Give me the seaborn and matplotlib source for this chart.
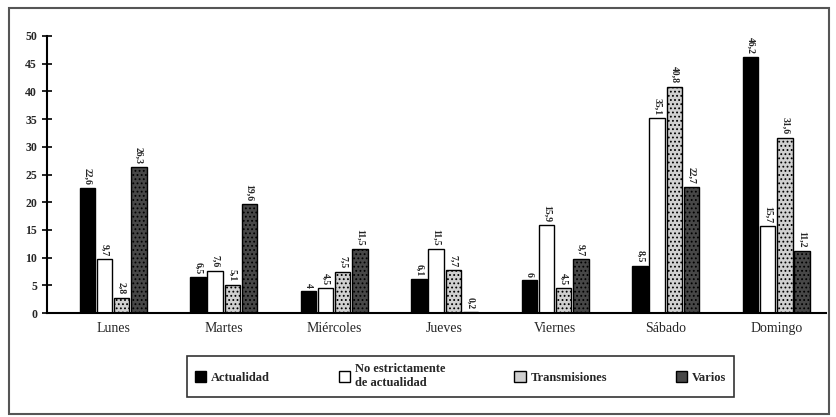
import matplotlib
matplotlib.use("Agg")
import matplotlib.pyplot as plt
import seaborn as sns
import pandas as pd
from matplotlib.patches import Rectangle

dias = ["Lunes", "Martes", "Miércoles", "Jueves", "Viernes", "Sábado", "Domingo"]
series = ["Actualidad", "No estrictamente\nde actualidad", "Transmisiones", "Varios"]
actualidad = [22.6, 6.5, 4.0, 6.1, 6.0, 8.5, 46.2]
no_estrict = [9.7, 7.6, 4.5, 11.5, 15.9, 35.1, 15.7]
transmisiones = [2.8, 5.1, 7.5, 7.7, 4.5, 40.8, 31.6]
varios = [26.3, 19.6, 11.5, 0.2, 9.7, 22.7, 11.2]
yticks = [0, 5, 10, 15, 20, 25, 30, 35, 40, 45, 50]

rows = []
for s, vals in zip(series, [actualidad, no_estrict, transmisiones, varios]):
    for d, v in zip(dias, vals):
        rows.append({"dia": d, "serie": s, "valor": v})
df = pd.DataFrame(rows)

sns.set_theme(style="white")
plt.rcParams["font.family"] = ["Liberation Serif", "DejaVu Serif"]
plt.rcParams["hatch.color"] = "#888888"
plt.rcParams["hatch.linewidth"] = 0.8

colors = ["#000000", "#ffffff", "#d0d0d0", "#474747"]
hatches = ["", "", "....", "...."]

fig = plt.figure(figsize=(8.36, 4.17), dpi=100)
ax = fig.add_axes([0.056, 0.249, 0.932, 0.665])
sns.barplot(data=df, x="dia", y="valor", hue="serie", order=dias, hue_order=series,
            palette=colors, width=0.62, edgecolor="black", linewidth=1.0,
            ax=ax, legend=True)

for i, cont in enumerate(ax.containers):
    for bar, v in zip(cont, df[df.serie == series[i]].valor):
        w = bar.get_width()
        bar.set_x(bar.get_x() + w * 0.05)
        bar.set_width(w * 0.90)
        bar.set_hatch(hatches[i])
        lbl = ("%g" % v).replace(".", ",")
        ax.text(bar.get_x() + bar.get_width() / 2, v + 0.6, lbl, rotation=-90,
                ha="center", va="bottom", fontsize=7, fontweight="bold")

ax.set_xlim(-0.6, 6.45)
ax.set_ylim(0, 50)
ax.set_yticks(yticks)
ax.set_yticklabels([str(t) for t in yticks], fontsize=8.5, fontweight="bold")
ax.set_xlabel("")
ax.set_ylabel("")
ax.tick_params(axis="x", which="major", length=0, labelsize=10, pad=6)
ax.set_xticks([i + 0.5 for i in range(6)], minor=True)
ax.tick_params(axis="x", which="minor", direction="inout", length=9, width=1.5, color="black")
ax.tick_params(axis="y", which="major", direction="inout", length=7, width=1.2, color="black", left=True)
for sp in ["top", "right"]:
    ax.spines[sp].set_visible(False)
for sp in ["left", "bottom"]:
    ax.spines[sp].set_color("black")
    ax.spines[sp].set_linewidth(1.5)

handles, labels = ax.get_legend_handles_labels()
ax.get_legend().remove()
leg = fig.legend(handles, labels, loc="center", bbox_to_anchor=(0.551, 0.098), ncol=4,
                 frameon=True, fancybox=False, edgecolor="black",
                 prop={"size": 9, "weight": "bold"},
                 handlelength=0.9, handleheight=0.9, columnspacing=5.5, handletextpad=0.4,
                 borderpad=0.6, borderaxespad=0)
leg.get_frame().set_linewidth(1.2)
leg._legend_box.align = "left"

fig.patches.append(Rectangle((9 / 836, 3 / 417), 820 / 836, 406 / 417, transform=fig.transFigure,
                             fill=False, edgecolor="#555555", linewidth=1.5))

fig.savefig("out.png", dpi=100)
